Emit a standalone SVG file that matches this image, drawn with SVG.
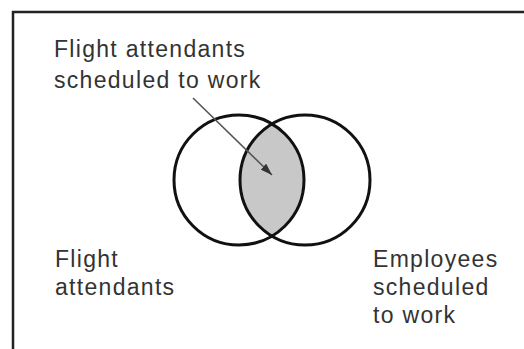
<svg xmlns="http://www.w3.org/2000/svg" width="524" height="349" viewBox="0 0 524 349">
  <style>
    .lbl { font-family: "Liberation Sans", Arial, sans-serif; font-size: 23px; fill: #333; letter-spacing: 1.3px; }
    .circ { fill: none; stroke: #111; stroke-width: 3; }
    .frame { fill: none; stroke: #222; stroke-width: 2.5; }
    .conn { stroke: #555; stroke-width: 1.6; fill: none; }
  </style>
  <defs>
    <marker id="ah" viewBox="0 0 12 8" refX="12" refY="4" markerWidth="12" markerHeight="8" markerUnits="userSpaceOnUse" orient="auto">
      <path d="M0,0 L12,4 L0,8 Z" fill="#333"/>
    </marker>
  </defs>
  <rect width="524" height="349" fill="#fff"/>
  <path class="frame" d="M13,349 L13,12 L524,12"/>
  <g id="intersection">
    <path d="M272,124 A65,65 0 0 1 272,236 A65,65 0 0 1 272,124 Z" fill="#c8c8c8"/>
  </g>
  <g id="flight-attendants">
    <circle class="circ" cx="239" cy="180" r="65"/>
    <text class="lbl" x="55" y="267">Flight</text>
    <text class="lbl" x="55" y="295">attendants</text>
  </g>
  <g id="employees-scheduled">
    <circle class="circ" cx="305" cy="180" r="65"/>
    <text class="lbl" x="373" y="267">Employees</text>
    <text class="lbl" x="373" y="295">scheduled</text>
    <text class="lbl" x="373" y="323">to work</text>
  </g>
  <g id="label-intersection">
    <text class="lbl" x="54" y="57">Flight attendants</text>
    <text class="lbl" x="54" y="88">scheduled to work</text>
  </g>
  <g id="connectors">
    <line class="conn" x1="193" y1="98" x2="272" y2="175" marker-end="url(#ah)"/>
  </g>
</svg>
